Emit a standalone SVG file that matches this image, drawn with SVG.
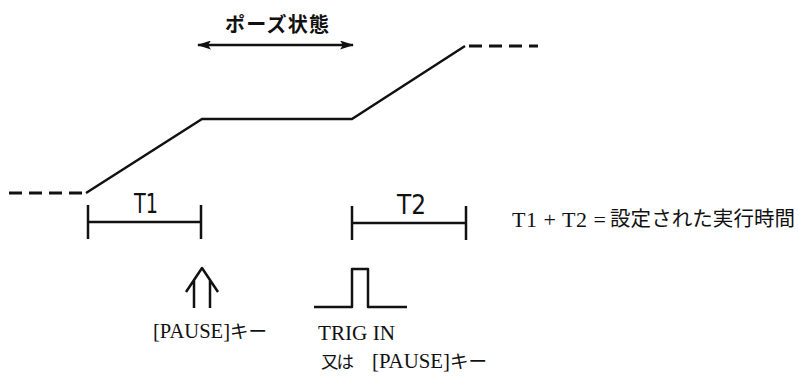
<svg xmlns="http://www.w3.org/2000/svg" width="799" height="376" viewBox="0 0 799 376">
<style>
.ln{fill:none;stroke:#111;stroke-width:2.5;stroke-linecap:butt;stroke-linejoin:round}
.ds{fill:none;stroke:#111;stroke-width:3;stroke-dasharray:13 7}
.g{font-family:"DejaVu Sans","Noto Sans",sans-serif;fill:#111}
.s{font-family:"Liberation Serif","Noto Sans CJK JP",serif;fill:#111}
.j{font-family:"Noto Sans CJK JP",sans-serif;fill:#111}
</style>
<defs>
<marker id="ah" viewBox="0 0 14 9" refX="13" refY="4.5" markerWidth="14" markerHeight="9" markerUnits="userSpaceOnUse" orient="auto-start-reverse">
<path d="M0,0 L14,4.5 L0,9 L3,4.5 Z" fill="#111"/>
</marker>
</defs>
<rect width="799" height="376" fill="#fff"/>
<g id="connectors">
<path id="profile" class="ln" d="M86,193 L202,119 L352,119 L465,46"/>
<line class="ds" x1="9" y1="193" x2="86" y2="193"/>
<line class="ds" x1="469" y1="46" x2="538" y2="46" stroke-dasharray="12 7"/>
<line id="pause-arrow" class="ln" x1="198" y1="45" x2="353" y2="45" marker-start="url(#ah)" marker-end="url(#ah)"/>
</g>
<g id="pause-label">
<text class="j" x="225" y="32" font-size="20" font-weight="bold" textLength="104" lengthAdjust="spacing">ポーズ状態</text>
</g>
<g id="t1">
<path class="ln" d="M88,205 V239 M88,222 H201 M201,205 V239"/>
<text class="g" x="134" y="213" font-size="27" textLength="24" lengthAdjust="spacingAndGlyphs">T1</text>
</g>
<g id="t2">
<path class="ln" d="M352,206 V240 M352,223 H466 M466,206 V240"/>
<text class="g" x="397" y="214" font-size="27" textLength="29" lengthAdjust="spacingAndGlyphs">T2</text>
</g>
<g id="formula">
<text class="s" x="512" y="227" font-size="22" textLength="94" lengthAdjust="spacing">T1 + T2 =</text>
<text class="j" x="610" y="226" font-size="20.5" textLength="185" lengthAdjust="spacing">設定された実行時間</text>
</g>
<g id="pause-key">
<path class="ln" d="M186,292 L202,268 L218,292 M194,280 V308 M210,280 V308"/>
<text class="s" x="153" y="338" font-size="20" textLength="77" lengthAdjust="spacingAndGlyphs">[PAUSE]</text>
<text class="j" x="230" y="338" font-size="18.5">キー</text>
</g>
<g id="trig">
<path class="ln" d="M314,307 H352 V269 H368 V307 H407"/>
<text class="s" x="318" y="340" font-size="21" textLength="77" lengthAdjust="spacingAndGlyphs">TRIG IN</text>
<text class="j" x="321" y="368" font-size="17.5" textLength="33" lengthAdjust="spacing">又は</text>
<text class="s" x="372" y="368" font-size="20" textLength="78" lengthAdjust="spacingAndGlyphs">[PAUSE]</text>
<text class="j" x="450" y="368" font-size="18.5">キー</text>
</g>
</svg>
